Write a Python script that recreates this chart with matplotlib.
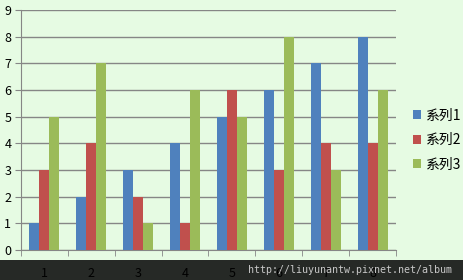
import numpy as np
import matplotlib.pyplot as plt
from matplotlib.patches import Rectangle

plt.rcParams['font.family'] = ['Noto Sans CJK TC', 'DejaVu Sans']

categories = ['1', '2', '3', '4', '5', '6', '7', '8']
series_names = ['系列1', '系列2', '系列3']
s1 = [1, 2, 3, 4, 5, 6, 7, 8]
s2 = [3, 4, 2, 1, 6, 3, 4, 4]
s3 = [5, 7, 1, 6, 5, 8, 3, 6]
colors = ['#4F81BD', '#C0504D', '#9BBB59']

bg = '#E6FBE3'
fig = plt.figure(figsize=(4.64, 2.80), dpi=100, facecolor=bg)
ax = fig.add_axes([21 / 464, 30 / 280, 375 / 464, 240 / 280])
ax.set_facecolor(bg)
ax.set_zorder(2)

# dark strip along the bottom
fig.patches.append(Rectangle((0, 0), 1, 20 / 280, transform=fig.transFigure,
                             facecolor='#262926', edgecolor='none', zorder=-1))

x = np.arange(len(categories))
w = 0.213
for i, (vals, c, name) in enumerate(zip([s1, s2, s3], colors, series_names)):
    ax.bar(x + (i - 1) * w, vals, width=w, color=c, label=name, zorder=3)

ax.set_xlim(-0.5, len(categories) - 0.5)
ax.set_ylim(0, 9)
ax.set_yticks(range(10))
ax.yaxis.grid(True, color='#868686', linewidth=1)
ax.set_axisbelow(True)

ax.set_xticks(x)
ax.set_xticklabels(categories)
ax.set_xticks(np.arange(-0.5, len(categories)), minor=True)
ax.tick_params(axis='x', which='major', length=0, pad=12, labelsize=9, labelcolor='black')
ax.tick_params(axis='x', which='minor', length=4, color='#868686')
ax.tick_params(axis='y', length=4, color='#868686', labelsize=9, pad=3)

for side in ['top', 'right']:
    ax.spines[side].set_visible(False)
ax.spines['left'].set_color('#868686')
ax.spines['bottom'].set_color('#868686')

leg = ax.legend(loc='center left', bbox_to_anchor=(1.045, 0.458), frameon=False,
                fontsize=10, handlelength=0.6, handleheight=0.6, handletextpad=0.35,
                labelspacing=0.75, borderpad=0, borderaxespad=0)

fig.text(452 / 464, 10 / 280, 'http://liuyunantw.pixnet.net/album', ha='right', va='center',
         family='DejaVu Sans Mono', fontsize=7.2, color='#C8C8C8', zorder=5)

fig.savefig('out.png', dpi=100, facecolor=bg)
